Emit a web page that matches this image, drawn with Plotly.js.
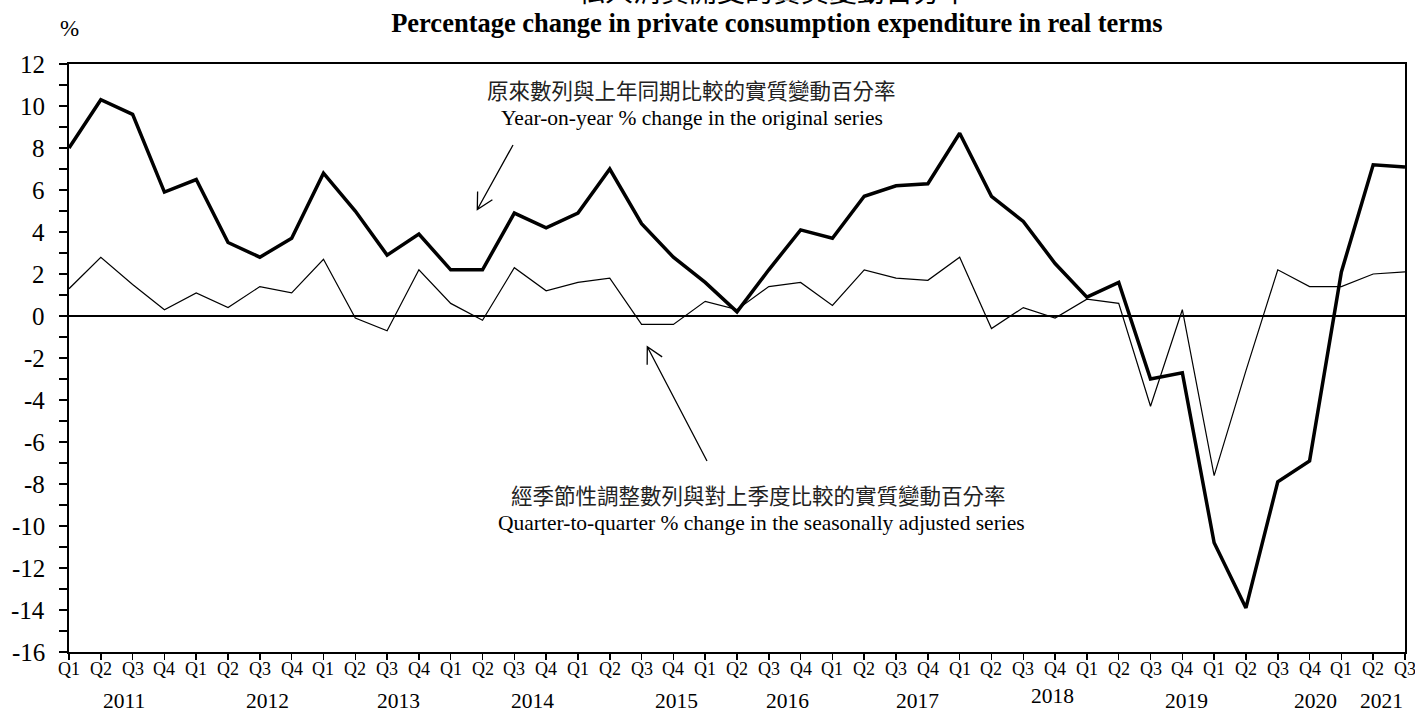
<!DOCTYPE html>
<html>
<head>
<meta charset="utf-8">
<script src="https://cdn.plot.ly/plotly-3.0.1.min.js"></script>
<style>html,body{margin:0;padding:0;background:#fff;}#chart{width:1415px;height:713px;}</style>
</head>
<body>
<div id="chart"></div>
<script>
// ---- data ----
const years = ['2011','2012','2013','2014','2015','2016','2017','2018','2019','2020','2021'];
const quarters = ['Q1','Q2','Q3','Q4'];
const lastYearQuarters = 3;
// Year-on-year % change in the original series
const yoyChange = [8.0, 10.3, 9.6, 5.9, 6.5, 3.5, 2.8, 3.7, 6.8, 5.0, 2.9, 3.9, 2.2, 2.2, 4.9, 4.2,
  4.9, 7.0, 4.4, 2.8, 1.6, 0.2, 2.2, 4.1, 3.7, 5.7, 6.2, 6.3, 8.7, 5.7, 4.5, 2.5,
  0.9, 1.6, -3.0, -2.7, -10.8, -13.9, -7.9, -6.9, 2.1, 7.2, 7.1];
// Quarter-to-quarter % change in the seasonally adjusted series
const qoqChange = [1.3, 2.8, 1.5, 0.3, 1.1, 0.4, 1.4, 1.1, 2.7, -0.1, -0.7, 2.2, 0.6, -0.2, 2.3, 1.2,
  1.6, 1.8, -0.4, -0.4, 0.7, 0.3, 1.4, 1.6, 0.5, 2.2, 1.8, 1.7, 2.8, -0.6, 0.4, -0.1,
  0.8, 0.6, -4.3, 0.3, -7.6, -2.6, 2.2, 1.4, 1.4, 2.0, 2.1];
const yTickVals = [-16,-14,-12,-10,-8,-6,-4,-2,0,2,4,6,8,10,12];
const yTickText = ['-16','-14','-12','-10','-8','-6','-4','-2','0','2','4','6','8','10','12'];

// period categories
const periods = [], periodQ = [];
years.forEach((y, i) => {
  const n = (i === years.length - 1) ? lastYearQuarters : 4;
  for (let q = 0; q < n; q++) { periods.push(y + ' ' + quarters[q]); periodQ.push(quarters[q]); }
});

// ---- layout helpers ----
const W = 1415, H = 713, M = {l: 69, r: 10, t: 64, b: 61};
const PW = W - M.l - M.r, PH = H - M.t - M.b;
const px2x = p => (p - M.l) / PW;          // page pixel -> paper x
const py2y = p => (H - M.b - p) / PH;      // page pixel -> paper y
const serif = 'Liberation Serif, Times New Roman, serif';
const cjk = 'Liberation Serif, Noto Sans CJK TC, serif';
const yearPos = [1.72, 6.25, 10.35, 14.57, 19.1, 22.6, 26.67, 30.92, 35.14, 39.2, 41.27];
const yearPy = [701, 701, 701, 701, 701, 701, 701, 696, 701, 701, 701];

const annotations = [];
// y-axis tick labels (placed on the y scale, right-aligned away from the axis)
yTickVals.forEach((v, i) => {
  annotations.push({text: yTickText[i], xref: 'paper', x: px2x(47), yref: 'y', y: v,
    showarrow: false, xanchor: 'right', yanchor: 'middle', font: {family: serif, size: 25, color: '#000'}});
});
// quarter labels on the x scale
periods.forEach((p, i) => {
  annotations.push({text: periodQ[i], xref: 'x', x: p, yref: 'paper', y: py2y(669),
    showarrow: false, xanchor: 'center', yanchor: 'middle', font: {family: serif, size: 18, color: '#000'}});
});
years.forEach((y, i) => {
  annotations.push({text: y, x: yearPos[i], xref: 'x', y: py2y(yearPy[i]), yref: 'paper',
    showarrow: false, xanchor: 'center', yanchor: 'middle', font: {family: serif, size: 21.5, color: '#000'}});
});
annotations.push(
  {text: '私人消費開支的實質變動百分率', xref: 'paper', yref: 'paper', x: 0.527, y: 1.1216,
   showarrow: false, xanchor: 'center', yanchor: 'middle', font: {family: cjk, size: 28, color: '#000'}},
  {text: '%', xref: 'paper', yref: 'paper', x: 0.0, y: 1.061,
   showarrow: false, xanchor: 'center', yanchor: 'middle', font: {family: serif, size: 23, color: '#000'}},
  {text: '原來數列與上年同期比較的實質變動百分率', xref: 'paper', yref: 'paper', x: 0.466, y: 0.952,
   showarrow: false, xanchor: 'center', yanchor: 'middle', font: {family: cjk, size: 21.5, color: '#222'}},
  {text: 'Year-on-year % change in the original series', xref: 'paper', yref: 'paper', x: 0.466, y: 0.908,
   showarrow: false, xanchor: 'center', yanchor: 'middle', font: {family: serif, size: 21.5, color: '#000'}},
  {text: '經季節性調整數列與對上季度比較的實質變動百分率', xref: 'paper', yref: 'paper', x: 0.516, y: 0.264,
   showarrow: false, xanchor: 'center', yanchor: 'middle', font: {family: cjk, size: 21.5, color: '#222'}},
  {text: 'Quarter-to-quarter % change in the seasonally adjusted series', xref: 'paper', yref: 'paper', x: 0.518, y: 0.220,
   showarrow: false, xanchor: 'center', yanchor: 'middle', font: {family: serif, size: 21.5, color: '#000'}}
);

// pointer arrows (thin line with open V head), given as page-pixel tail/head
function arrowPath(tail, head, wing, halfAngleDeg) {
  const a = Math.atan2(tail[1] - head[1], tail[0] - head[0]);
  const h = halfAngleDeg * Math.PI / 180;
  const w1 = [head[0] + wing * Math.cos(a + h), head[1] + wing * Math.sin(a + h)];
  const w2 = [head[0] + wing * Math.cos(a - h), head[1] + wing * Math.sin(a - h)];
  const P = p => px2x(p[0]).toFixed(5) + ',' + py2y(p[1]).toFixed(5);
  return 'M' + P(tail) + 'L' + P(head) + 'M' + P(w1) + 'L' + P(head) + 'L' + P(w2);
}
const shapes = [
  {type: 'path', xref: 'paper', yref: 'paper', path: arrowPath([513, 145], [477.3, 209.5], 18, 28),
   line: {color: '#000', width: 1.3}},
  {type: 'path', xref: 'paper', yref: 'paper', path: arrowPath([707, 461], [647.3, 346.7], 18, 28),
   line: {color: '#000', width: 1.3}}
];

const traces = [
  {x: periods, y: qoqChange, type: 'scatter', mode: 'lines', name: 'Quarter-to-quarter',
   line: {color: '#000', width: 1.2}, hoverinfo: 'x+y'},
  {x: periods, y: yoyChange, type: 'scatter', mode: 'lines', name: 'Year-on-year',
   line: {color: '#000', width: 3.5}, hoverinfo: 'x+y'}
];

const layout = {
  width: W, height: H,
  margin: M,
  paper_bgcolor: '#fff', plot_bgcolor: '#fff',
  showlegend: false,
  title: {text: '<b>Percentage change in private consumption expenditure in real terms</b>',
    x: 0.549, xref: 'container', y: 0.968, yref: 'container', xanchor: 'center', yanchor: 'middle',
    font: {family: serif, size: 26.5, color: '#000'}},
  xaxis: {type: 'category', range: [0, periods.length - 1], tickvals: periods, showticklabels: false,
    showgrid: false, zeroline: false, showline: true, linecolor: '#000', linewidth: 2, mirror: true,
    ticks: 'outside', ticklen: 6, tickwidth: 1.5, tickcolor: '#000', fixedrange: true},
  yaxis: {range: [-16, 12], tickvals: yTickVals, showticklabels: false,
    showgrid: false, zeroline: true, zerolinecolor: '#000', zerolinewidth: 2.5,
    showline: true, linecolor: '#000', linewidth: 2, mirror: true,
    ticks: 'outside', ticklen: 8, tickwidth: 1.5, tickcolor: '#000',
    minor: {dtick: 1, ticks: 'outside', ticklen: 8, tickwidth: 1.5, tickcolor: '#000', showgrid: false},
    fixedrange: true},
  annotations: annotations,
  shapes: shapes
};

Plotly.newPlot('chart', traces, layout, {displayModeBar: false, staticPlot: true});
</script>
</body>
</html>
